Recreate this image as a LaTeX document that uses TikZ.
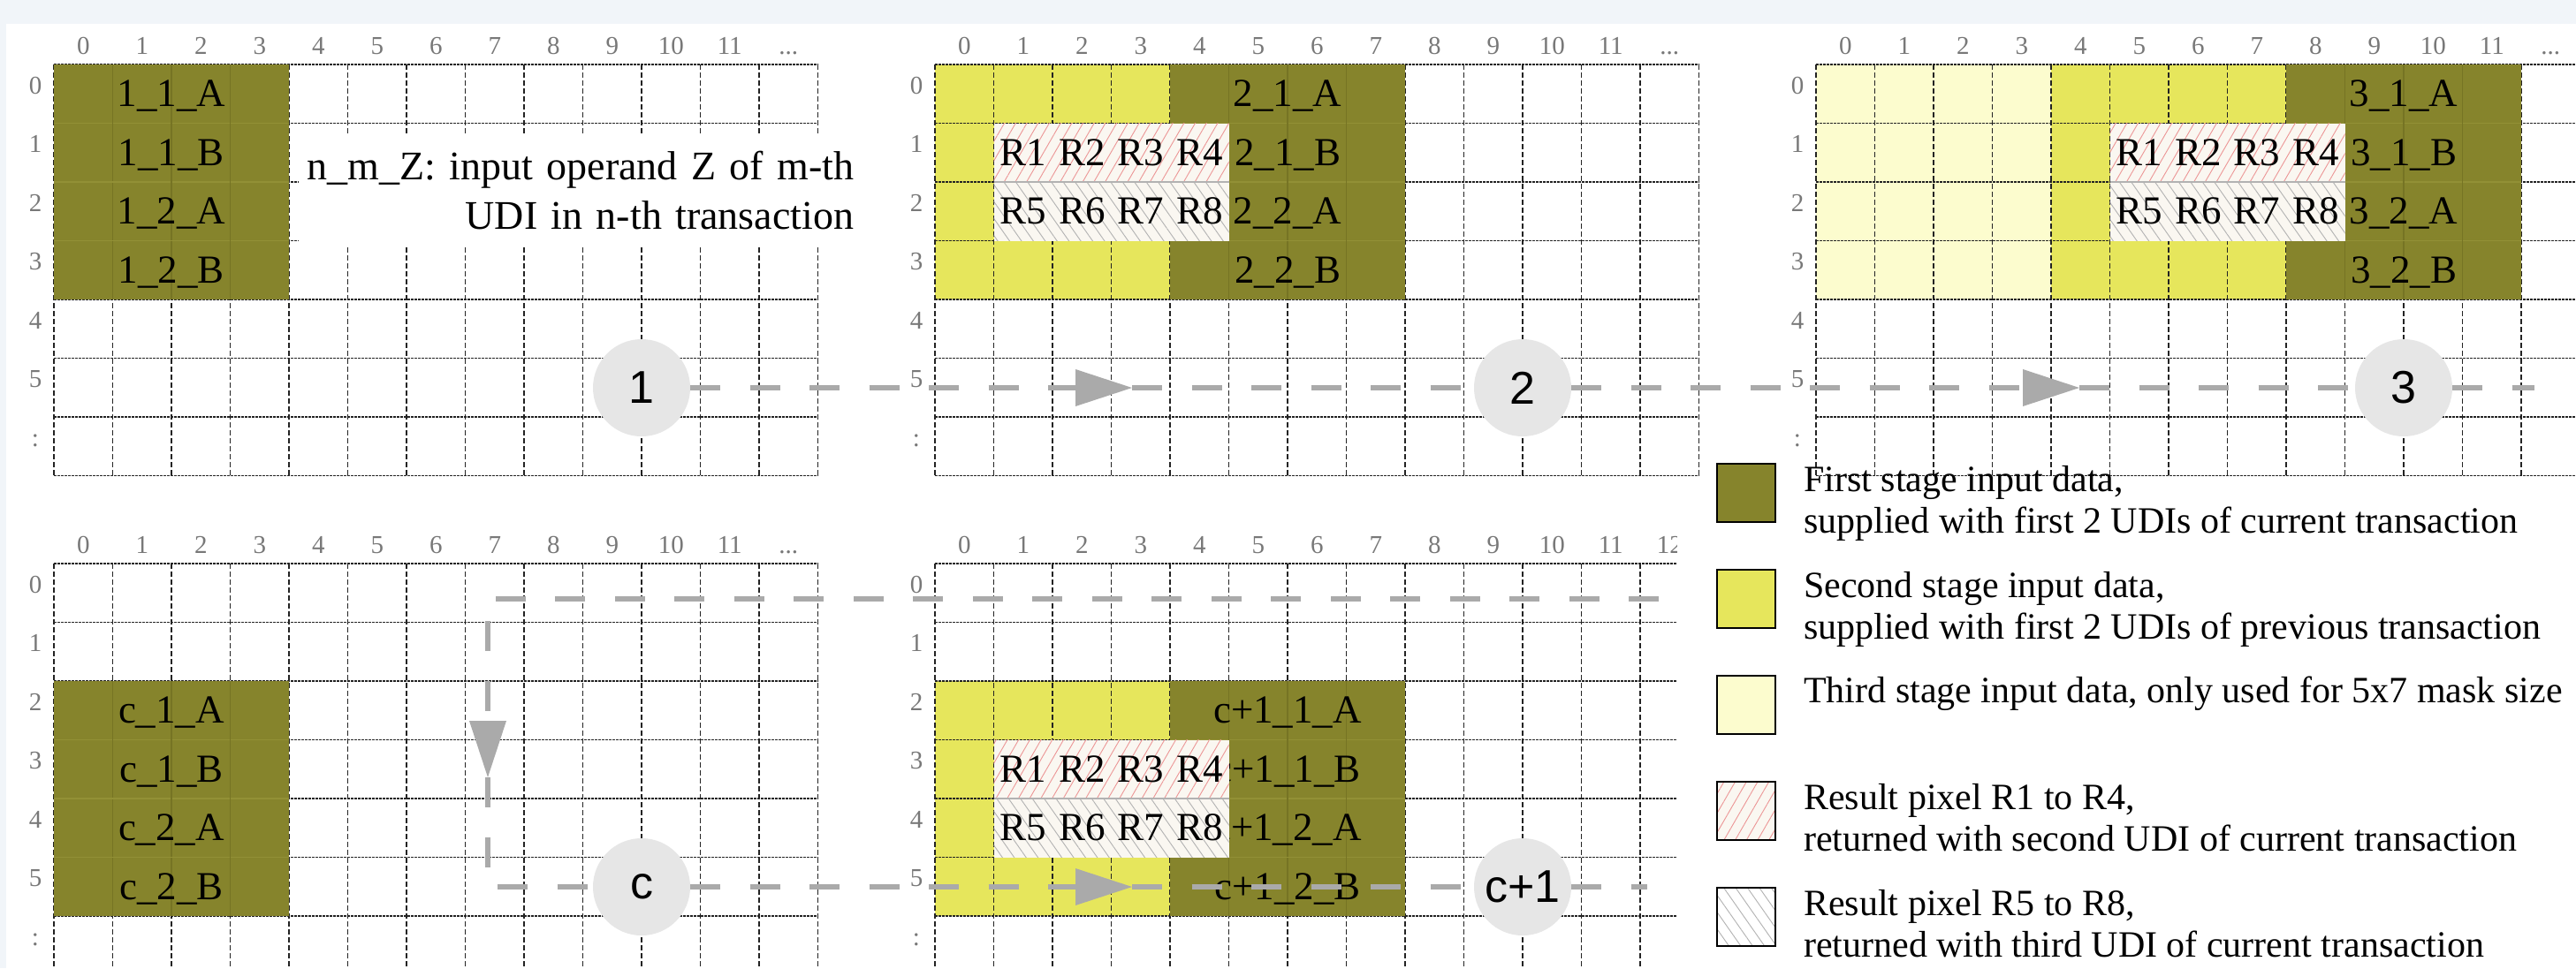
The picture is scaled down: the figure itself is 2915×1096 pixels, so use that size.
\documentclass[tikz,border=0pt]{standalone}
\usepackage{fontspec}
\setmainfont{Liberation Serif}
\newfontfamily\sansfnt{Liberation Sans}
\usetikzlibrary{arrows.meta,patterns.meta}

\definecolor{olivemain}{RGB}{134,132,44}
\definecolor{olivedk}{RGB}{118,116,36}
\definecolor{olivelt}{RGB}{146,144,54}
\definecolor{yeltwo}{RGB}{230,230,92}
\definecolor{yelthree}{RGB}{252,252,206}
\definecolor{hatchbg}{RGB}{250,247,241}
\definecolor{hatchred}{RGB}{236,150,150}
\definecolor{hatchgray}{RGB}{178,178,178}
\definecolor{flowgray}{RGB}{170,170,170}
\definecolor{circgray}{RGB}{230,230,230}
\definecolor{labgray}{RGB}{120,120,120}
\definecolor{gridc}{RGB}{35,35,35}
\definecolor{bgstrip}{RGB}{241,245,249}

\tikzset{
  vline/.style={draw=gridc, line width=1.3pt, dash pattern=on 6pt off 3pt},
  hline/.style={draw=gridc, line width=1.6pt, dash pattern=on 2.5pt off 1.5pt},
  collab/.style={anchor=base, inner sep=0pt, text=labgray, font=\fontsize{29}{29}\selectfont},
  celltxt/.style={anchor=base, inner sep=0pt, font=\fontsize{45}{45}\selectfont},
  stepcirc/.style={circle, fill=circgray, minimum size=110pt, inner sep=0pt, font=\sansfnt\fontsize{52}{52}\selectfont},
  flow/.style={draw=flowgray, line width=6pt, dash pattern=on 34pt off 33.5pt},
  flowarrow/.style={flow, -{Triangle[length=64pt,width=42pt,line width=0pt]}},
  legsq/.style={draw=black, line width=2pt, minimum size=66pt, inner sep=0pt},
  legtxt/.style={anchor=base west, inner sep=0pt, font=\fontsize{42}{42}\selectfont},
  hatchedge/.style={draw=hatchgray, line width=1.2pt},
  redhatch/.style={pattern={Lines[angle=60,distance=11pt,line width=0.9pt]}, pattern color=hatchred},
  grayhatch/.style={pattern={Lines[angle=-55,distance=11pt,line width=0.9pt]}, pattern color=hatchgray},
}

% grid: #1 X, #2 Y, #3 last column label, #4 name prefix
\newcommand\drawgrid[4]{%
  \foreach \i in {0,...,13}{\draw[vline] ({#1+\i*66.5},#2) -- ({#1+\i*66.5},{#2+7*66.5});}
  \foreach \j in {0,...,7}{\draw[hline] (#1,{#2+\j*66.5}) -- ({#1+13*66.5},{#2+\j*66.5});}
  \foreach \i in {0,...,11}{\node[collab] (#4c\i) at ({#1+(\i+0.5)*66.5},{#2-12}) {\i};}
  \node[collab] (#4cx) at ({#1+12.5*66.5},{#2-12}) {#3};
  \foreach \j in {0,...,5}{\node[collab] (#4r\j) at ({#1-21},{#2+\j*66.5+33}) {\j};}
  \node[collab] (#4rx) at ({#1-21},{#2+6*66.5+33}) {:};
}
% 4x4 coloured block: #1 X, #2 Y, #3 col, #4 row, #5 colour
\newcommand\colblock[5]{%
  \fill[#5] ({#1+#3*66.5},{#2+#4*66.5}) rectangle ++(266,266);
}
\newcommand\oliveblock[4]{%
  \fill[olivemain] ({#1+#3*66.5},{#2+#4*66.5}) rectangle ++(266,266);
  \foreach \k in {1,2,3}{%
    \draw[olivelt, line width=1.2pt] ({#1+#3*66.5},{#2+(#4+\k)*66.5}) -- ++(266,0);
    \draw[olivedk, line width=1.2pt] ({#1+(#3+\k)*66.5},{#2+#4*66.5}) -- ++(0,266);
  }
}
% hatched result box 4x2: #1 X, #2 Y, #3 col, #4 row, #5 prefix
\newcommand\hatchbox[5]{%
  \fill[hatchbg] ({#1+#3*66.5},{#2+#4*66.5}) rectangle ++(266,133);
  \fill[redhatch] ({#1+#3*66.5},{#2+#4*66.5}) rectangle ++(266,66.5);
  \fill[grayhatch] ({#1+#3*66.5},{#2+(#4+1)*66.5}) rectangle ++(266,66.5);
  \draw[hatchedge] ({#1+#3*66.5},{#2+(#4+1)*66.5}) -- ++(266,0);
  \foreach \k in {1,...,4}{%
    \pgfmathtruncatemacro\kk{\k+4}
    \node[celltxt] (#5a\k) at ({#1+(#3+\k-0.5)*66.5},{#2+#4*66.5+47.5}) {R\k};
    \node[celltxt] (#5b\k) at ({#1+(#3+\k-0.5)*66.5},{#2+(#4+1)*66.5+47.5}) {R\kk};
  }
}

\begin{document}
\begin{tikzpicture}[x=1pt,y=-1pt]
\useasboundingbox (0,0) rectangle (2915,1096);
\fill[bgstrip] (0,0) rectangle (2915,1096);
\fill[white] (7,27) rectangle (2915,1096);

% ---------- Panel 1 ----------
\drawgrid{61}{73}{...}{pa}
\oliveblock{61}{73}{0}{0}
\node[celltxt] (pat1) at (194,120.5) {1\_1\_A};
\node[celltxt] (pat2) at (194,187) {1\_1\_B};
\node[celltxt] (pat3) at (194,253.5) {1\_2\_A};
\node[celltxt] (pat4) at (194,320) {1\_2\_B};

% ---------- Panel 2 ----------
\colblock{1058}{73}{0}{0}{yeltwo}
\drawgrid{1058}{73}{...}{pb}
\oliveblock{1058}{73}{4}{0}
\node[celltxt] (pbt1) at (1457,120.5) {2\_1\_A};
\node[celltxt] (pbt2) at (1457,187) {2\_1\_B};
\node[celltxt] (pbt3) at (1457,253.5) {2\_2\_A};
\node[celltxt] (pbt4) at (1457,320) {2\_2\_B};
\hatchbox{1058}{73}{1}{1}{pbh}

% ---------- Panel 3 ----------
\colblock{2055}{73}{0}{0}{yelthree}
\colblock{2055}{73}{4}{0}{yeltwo}
\drawgrid{2055}{73}{...}{pc}
\oliveblock{2055}{73}{8}{0}
\node[celltxt] (pct1) at (2720,120.5) {3\_1\_A};
\node[celltxt] (pct2) at (2720,187) {3\_1\_B};
\node[celltxt] (pct3) at (2720,253.5) {3\_2\_A};
\node[celltxt] (pct4) at (2720,320) {3\_2\_B};
\hatchbox{2055}{73}{5}{1}{pch}

% note
\node[fill=white, inner xsep=9pt, inner ysep=0pt, text width=619pt, minimum height=124pt,
      align=right, anchor=north west, font=\fontsize{46}{56}\selectfont] (note) at (338,153)
      {n\_m\_Z: input operand Z of m-th\\UDI in n-th transaction};

% ---------- Panel c ----------
\drawgrid{61}{638}{...}{pd}
\oliveblock{61}{638}{0}{2}
\node[celltxt] (pdt1) at (194,818.5) {c\_1\_A};
\node[celltxt] (pdt2) at (194,885) {c\_1\_B};
\node[celltxt] (pdt3) at (194,951.5) {c\_2\_A};
\node[celltxt] (pdt4) at (194,1018) {c\_2\_B};

% ---------- Panel c+1 ----------
\begin{scope}
\clip (1000,560) rectangle (1897,1096);
\colblock{1058}{638}{0}{2}{yeltwo}
\drawgrid{1058}{638}{12}{pe}
\oliveblock{1058}{638}{4}{2}
\node[celltxt] (pet1) at (1457,818.5) {c+1\_1\_A};
\node[celltxt] (pet2) at (1457,885) {c+1\_1\_B};
\node[celltxt] (pet3) at (1457,951.5) {c+1\_2\_A};
\node[celltxt] (pet4) at (1457,1018) {c+1\_2\_B};
\hatchbox{1058}{638}{1}{3}{peh}
\end{scope}

% ---------- step circles ----------
\node[stepcirc] (k1) at (726,439) {1};
\node[stepcirc] (k2) at (1723,439) {2};
\node[stepcirc] (k3) at (2720,439) {3};
\node[stepcirc] (k4) at (726,1004) {c};
\node[stepcirc] (k5) at (1723,1004) {c+1};

% ---------- flow ----------
\coordinate (a1) at (1281,439);
\coordinate (a2) at (2353,439);
\coordinate (tend) at (2868,439);
\draw[flowarrow] (k1) -- (a1);
\draw[flow] (a1) -- (k2);
\draw[flowarrow] (k2) -- (a2);
\draw[flow] (a2) -- (k3);
\draw[flow] (k3) -- (tend);

\coordinate (b0) at (1877,678);
\coordinate (b1) at (552,678);
\coordinate (a3) at (552,880);
\coordinate (a4) at (1281,1004);
\coordinate (bend) at (1864,1004);
\draw[flowarrow] (b0) -- (b1) -- (a3);
\draw[flow] (a3) |- (k4);
\draw[flowarrow] (k4) -- (a4);
\draw[flow] (a4) -- (k5);
\draw[flow] (k5) -- (bend);

% ---------- legend ----------
\node[legsq, fill=olivemain] (lg1) at (1976,558) {};
\node[legsq, fill=yeltwo] (lg2) at (1976,678) {};
\node[legsq, fill=yelthree] (lg3) at (1976,798) {};
\node[legsq, preaction={fill=hatchbg}, redhatch] (lg4) at (1976,918) {};
\node[legsq, preaction={fill=white}, grayhatch] (lg5) at (1976,1038) {};

\node[legtxt] (lt1a) at (2041,556) {First stage input data,};
\node[legtxt] (lt1b) at (2041,603) {supplied with first 2 UDIs of current transaction};
\node[legtxt] (lt2a) at (2041,676) {Second stage input data,};
\node[legtxt] (lt2b) at (2041,723) {supplied with first 2 UDIs of previous transaction};
\node[legtxt] (lt3a) at (2041,795) {Third stage input data, only used for 5x7 mask size};
\node[legtxt] (lt4a) at (2041,916) {Result pixel R1 to R4,};
\node[legtxt] (lt4b) at (2041,963) {returned with second UDI of current transaction};
\node[legtxt] (lt5a) at (2041,1036) {Result pixel R5 to R8,};
\node[legtxt] (lt5b) at (2041,1083) {returned with third UDI of current transaction};
\end{tikzpicture}
\end{document}
